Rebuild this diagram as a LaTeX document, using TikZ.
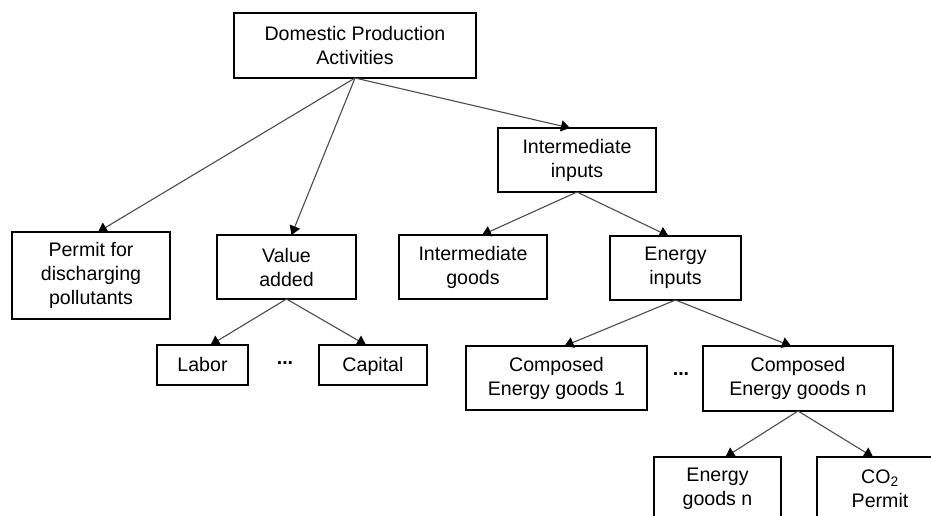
\documentclass[tikz,border=0pt]{standalone}
\usepackage{fontspec}
\setmainfont{Liberation Sans}
\usetikzlibrary{arrows.meta}
\begin{document}
\begin{tikzpicture}[x=1pt,y=-1pt,
  box/.style={draw=black,line width=1.4pt,inner sep=0pt,outer sep=0pt,align=center,
    font=\fontsize{19.6}{24}\selectfont},
  one/.style={text height=15pt,text depth=3pt},
  conn/.style={draw=black!70,line width=1.1pt,-{Triangle[width=11pt,length=9pt,color=black]}},
  dots/.style={font=\fontsize{19.6}{24}\selectfont\bfseries,inner sep=0pt}]
\clip (0,0) rectangle (931,515);
\fill[white] (0,0) rectangle (931,515);
\node[box,minimum width=242pt,minimum height=65pt] (top) at (355,45.5) {Domestic Production\\Activities};
\node[box,minimum width=158pt,minimum height=87pt] (permit) at (91,275.5) {Permit for\\discharging\\pollutants};
\node[box,minimum width=139pt,minimum height=64pt] (va) at (286.5,267) {Value\\added};
\node[box,minimum width=158pt,minimum height=64pt] (ii) at (577,160) {Intermediate\\inputs};
\node[box,minimum width=148pt,minimum height=64pt] (ig) at (473,267) {Intermediate\\goods};
\node[box,minimum width=131pt,minimum height=64pt] (ei) at (675.5,268) {Energy\\inputs};
\node[box,one,minimum width=91pt,minimum height=40pt] (labor) at (202.5,365) {Labor};
\node[box,one,minimum width=108pt,minimum height=40pt] (capital) at (373,365) {Capital};
\node[dots] (d1) at (285,363) {...};
\node[box,minimum width=181pt,minimum height=64pt] (c1) at (556.5,378) {Composed\\Energy goods 1};
\node[box,minimum width=190pt,minimum height=65pt] (cn) at (798,378.5) {Composed\\Energy goods n};
\node[dots] (d2) at (681,374) {...};
\node[box,minimum width=127pt,minimum height=64pt] (egn) at (717.5,489) {Energy\\goods n};
\node[box,minimum width=126pt,minimum height=64pt] (co2) at (880,489) {CO\textsubscript{2}\\Permit};
\draw[conn] (top.south) -- ([xshift=7pt]permit.north);
\draw[conn] (top.south) -- ([xshift=5pt]va.north);
\draw[conn] (top.south) -- ([xshift=-7pt]ii.north);
\draw[conn] (ii.south) -- ([xshift=9pt]ig.north);
\draw[conn] (ii.south) -- ([xshift=-7pt]ei.north);
\draw[conn] (va.south) -- ([xshift=8pt]labor.north);
\draw[conn] (va.south) -- ([xshift=-7pt]capital.north);
\draw[conn] (ei.south) -- ([xshift=8pt]c1.north);
\draw[conn] (ei.south) -- ([xshift=-7pt]cn.north);
\draw[conn] (cn.south) -- ([xshift=8pt]egn.north);
\draw[conn] (cn.south) -- ([xshift=-7pt]co2.north);
\end{tikzpicture}
\end{document}
